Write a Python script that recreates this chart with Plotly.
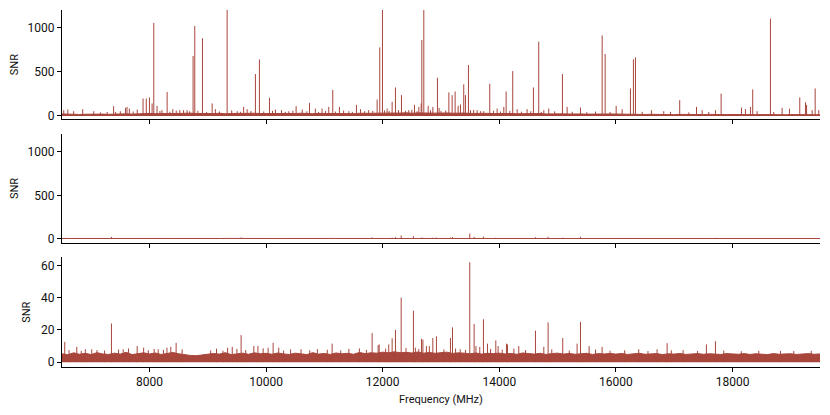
import plotly.graph_objects as go
from plotly.subplots import make_subplots

# spectrum colour
line_color = '#a8463c'

# frequency grid for the noise floor (MHz), one value per 100 MHz
floor_freq = list(range(6500, 19600, 100))

# noise floor of the observed spectrum (top panel)
floor_obs = [
    22, 18, 20, 16, 19, 21, 17, 20, 18, 22, 19, 23, 20, 24, 22,
    28, 25, 30, 27, 26, 29, 24, 31, 27, 25, 28, 26, 30, 24, 27, 29, 25, 28, 30, 27,
    26, 29, 25, 28, 24, 27, 30, 26, 25, 28, 27, 24, 29, 26, 28, 25, 30, 27, 29, 31,
    30, 33, 28, 32, 35, 30, 34, 29, 32, 31, 36, 33, 30, 34, 32, 28, 30, 27, 29, 26,
    28, 25, 27, 24, 26, 23, 25, 27, 22, 24, 25, 23, 21, 24, 22, 20, 23, 25, 21, 22,
    20, 18, 21, 17, 19, 16, 18, 15, 17, 16, 14, 17, 15, 16, 14, 15, 17, 13, 15, 16,
    14, 15, 13, 16, 14, 15, 13, 14, 16, 13, 15, 14, 13, 15, 14, 13,
]

# noise floor of the residual spectrum (middle and bottom panels)
floor_res = [
    5.2, 4.6, 5.8, 4.9, 5.5, 4.7, 5.9, 5.1, 4.8, 5.6, 5.0, 6.1, 4.7, 5.4, 5.8,
    5.1, 5.7, 4.8, 5.5, 6.0, 5.2, 4.6, 4.2, 4.0, 4.4, 4.8, 5.4, 5.0, 5.9, 4.7, 5.3, 5.6, 4.9, 5.8, 5.2,
    5.5, 4.9, 5.7, 5.1, 4.8, 5.6, 5.3, 4.7, 5.9, 5.0, 5.4, 4.8, 5.7, 5.2, 5.5, 4.9, 6.0, 5.3, 5.8, 5.6,
    6.2, 5.8, 6.4, 5.9, 6.1, 5.7, 6.3, 5.6, 6.0, 5.5, 5.9, 6.2, 5.4, 5.8, 5.6, 5.2, 5.7, 5.0, 5.5, 5.3,
    5.6, 5.1, 5.4, 4.9, 5.7, 5.2, 5.0, 5.5, 4.8, 5.3, 5.6, 5.0, 5.4, 4.9, 5.2, 5.5, 4.8, 5.3, 5.1, 5.4,
    5.0, 5.4, 4.8, 5.2, 5.5, 4.9, 5.1, 5.3, 4.7, 5.2, 5.0, 5.4, 4.8, 5.1, 5.3, 4.9, 5.2, 5.0, 4.8, 5.3,
    5.1, 4.9, 5.3, 4.8, 5.2, 5.0, 4.7, 5.3, 4.9, 5.1, 5.2, 4.8, 5.0, 5.3, 4.9, 5.1,
]

# lines in the observed spectrum
obs_freq = [
    6530, 6600, 6700, 6855, 7045, 7275, 7385, 7500, 7590, 7615, 7655, 7790, 7890, 7945,
    8000, 8045, 8074, 8130, 8215, 8303, 8400, 8520, 8585, 8645, 8748, 8777, 8909, 9075,
    9130, 9332, 9505, 9615, 9675, 9817, 9886, 10058, 10160, 10265, 10390, 10515, 10620,
    10745, 10845, 10960, 11075, 11144, 11258, 11420, 11550, 11620, 11760, 11905, 11950,
    11996, 12076, 12162, 12219, 12322, 12447, 12545, 12620, 12660, 12671, 12705, 12780,
    12860, 12939, 12967, 13135, 13191, 13242, 13294, 13334, 13390, 13419, 13471, 13505,
    13620, 13733, 13836, 13963, 14077, 14117, 14230, 14306, 14477, 14585, 14676, 14763,
    14848, 15083, 15163, 15392, 15764, 15815, 16004, 16107, 16249, 16300, 16335, 16609,
    16820, 16935, 17094, 17382, 17479, 17592, 17707, 17804, 18153, 18221, 18307, 18346,
    18422, 18650, 18707, 18850, 18976, 19153, 19251, 19270, 19365, 19417, 19479,
    # weaker lines near the floor
    7160, 7420, 7720, 8180, 8350, 8460, 8690, 8830, 8980, 9200, 9410, 9560, 9740,
    9960, 10110, 10330, 10460, 10700, 10900, 11020, 11190, 11330, 11480, 11690, 11830,
    12030, 12110, 12270, 12390, 12500, 12590, 12820, 13000, 13080, 13560, 13680, 13900,
    14020, 14180, 14380, 14540, 14720, 14950, 15250, 15500, 15650, 15900, 16450, 17250,
]
obs_snr = [
    65, 72, 53, 76, 53, 45, 110, 53, 91, 102, 83, 72, 197, 197,
    209, 141, 1053, 114, 65, 270, 76, 65, 65, 65, 678, 1019, 880, 141,
    76, 1300, 53, 102, 76, 474, 640, 205, 72, 65, 53, 110, 72,
    148, 83, 83, 102, 294, 102, 53, 125, 76, 65, 186, 777,
    1300, 83, 159, 322, 235, 65, 125, 102, 141, 860, 1300, 114,
    102, 432, 91, 266, 235, 277, 114, 129, 357, 235, 576, 65,
    65, 53, 364, 83, 102, 277, 508, 76, 76, 322, 841, 65,
    83, 474, 102, 95, 913, 701, 114, 76, 311, 641, 663, 65,
    53, 45, 178, 102, 65, 45, 65, 252, 95, 76, 102, 300,
    53, 1102, 45, 91, 83, 209, 155, 125, 65, 311, 65,
    40, 45, 50, 55, 48, 60, 52, 58, 45, 50, 62, 47, 55,
    50, 58, 46, 60, 52, 44, 56, 49, 61, 45, 53, 57,
    62, 55, 66, 58, 70, 52, 64, 57, 60, 68, 54, 59,
    50, 56, 48, 53, 45, 51, 47, 42, 49, 44, 46, 40, 38,
]

# lines left in the residual spectrum
res_freq = [
    6547, 6753, 6900, 7100, 7348, 7550, 7789, 7900, 8150, 8300, 8366, 8457, 9340, 9420,
    9572, 9790, 9860, 10035, 10121, 10217, 10600, 11133, 11600, 11819, 11922, 11940,
    12104, 12162, 12219, 12317, 12527, 12560, 12665, 12690, 12750, 12800, 12860, 12922,
    13162, 13197, 13330, 13493, 13568, 13600, 13665, 13728, 13797, 13940, 13980, 14123,
    14140, 14334, 14620, 14763, 14837, 15088, 15334, 15392, 15540, 15763, 16391, 16706,
    16878, 17152, 17552, 17707, 18822,
    # small bumps just above the floor
    6620, 6830, 7010, 7230, 7470, 7640, 7980, 8080, 8240, 8560, 9050, 9150, 9260,
    9500, 9650, 9950, 10300, 10420, 10750, 10880, 11050, 11280, 11420, 11720, 12050,
    12400, 12620, 13050, 13250, 13420, 13850, 14050, 14250, 14450, 14900, 15200, 15650,
    15900, 16150, 16550, 16950, 17400, 17850, 18150, 18450, 19050, 19350,
]
res_snr = [
    12.6, 9.5, 8, 7.5, 24, 8, 10, 9, 8, 9, 9.5, 12, 9, 9.5,
    16.8, 10, 10, 9, 12, 9, 8, 11.5, 8.5, 18, 10.5, 11,
    11, 14.8, 20, 40, 32, 9, 14.5, 14, 10, 10, 15, 16,
    15, 21.6, 8, 62, 23.7, 10, 9.5, 26.6, 11.5, 13.5, 10, 11.5,
    11, 10, 19.5, 9.5, 24.7, 15, 11.5, 25, 10, 9.5, 8, 8,
    11.8, 7.5, 11, 13, 7,
    7.5, 7, 8, 7.2, 7.8, 8.5, 7.4, 8.2, 7.6, 8, 7.3, 8.4, 7.1,
    8.3, 7.5, 8.6, 7.2, 7.9, 7.4, 8.1, 7.7, 7.3, 8.2, 7.6, 8.4,
    8.8, 8.1, 7.9, 8.5, 7.6, 8.2, 7.8, 8.4, 7.5, 7.9, 7.2, 7.8,
    7.1, 7.4, 6.9, 7.3, 7, 7.2, 6.8, 7.1, 6.9, 7,
]

axis_font = dict(family='Roboto, Inter, sans-serif', size=12, color='#111')


def stems(freq, snr):
    # vertical lines from zero up to each value
    xs, ys = [], []
    for f, s in zip(freq, snr):
        xs += [f, f, None]
        ys += [0, s, None]
    return xs, ys


def add_panel(fig, row, floor, freq, snr):
    fig.add_trace(
        go.Scatter(x=floor_freq, y=floor, mode='lines', fill='tozeroy',
                   fillcolor=line_color, line=dict(color=line_color, width=1),
                   hoverinfo='skip'),
        row=row, col=1)
    xs, ys = stems(freq, snr)
    fig.add_trace(
        go.Scatter(x=xs, y=ys, mode='lines',
                   line=dict(color=line_color, width=1)),
        row=row, col=1)


fig = make_subplots(rows=3, cols=1, shared_xaxes=True)
add_panel(fig, 1, floor_obs, obs_freq, obs_snr)
add_panel(fig, 2, floor_res, res_freq, res_snr)
add_panel(fig, 3, floor_res, res_freq, res_snr)

axis_style = dict(
    showline=True, linecolor='black', linewidth=1,
    ticks='outside', ticklen=4, tickcolor='black', tickwidth=1,
    showgrid=False, zeroline=False, tickfont=axis_font,
)

# the page adds an 8px body margin, so the figure is a little smaller than the window
fig.update_layout(
    width=822,
    height=407,
    plot_bgcolor='white',
    paper_bgcolor='white',
    showlegend=False,
    font=axis_font,
    margin=dict(l=54, r=10, t=2, b=48),
    yaxis=dict(domain=[0.694, 1.0], range=[-38, 1200], tickvals=[0, 500, 1000]),
    yaxis2=dict(domain=[0.346, 0.654], range=[-52, 1210], tickvals=[0, 500, 1000]),
    yaxis3=dict(domain=[0.0, 0.307], range=[-3, 65], tickvals=[0, 20, 40, 60]),
)
fig.update_xaxes(axis_style)
fig.update_yaxes(axis_style)
fig.update_xaxes(range=[6500, 19500], tickformat='d',
                 tickvals=[8000, 10000, 12000, 14000, 16000, 18000])
fig.update_xaxes(showticklabels=False, row=1, col=1)
fig.update_xaxes(showticklabels=False, row=2, col=1)
fig.update_xaxes(title=dict(text='Frequency (MHz)', font=dict(size=11), standoff=6),
                 row=3, col=1)
fig.update_yaxes(title=dict(text='SNR', font=dict(size=11), standoff=8))

fig.write_html('out.html')
